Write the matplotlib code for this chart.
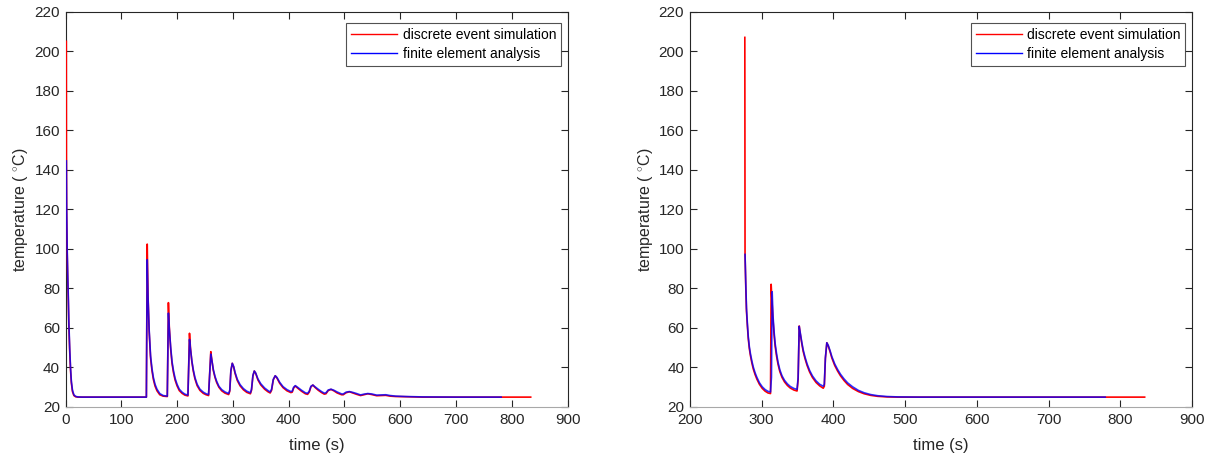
import matplotlib
matplotlib.use("Agg")
import matplotlib.pyplot as plt

plt.rcParams['font.family'] = ['Liberation Sans', 'DejaVu Sans']
plt.rcParams['mathtext.fontset'] = 'custom'
plt.rcParams['mathtext.rm'] = 'Liberation Sans'

# ---- left panel: full heating cycle ----
left_fea_t = [1.5, 2.0, 3.0, 4.0, 5.0, 6.0, 7.5, 9.0, 10.5, 12.5, 15, 18, 22, 30,
              145.0, 146.5, 148, 150, 152.5, 155, 157.5, 160.5, 164, 169, 175, 182.5,
              184.5, 186, 188.5, 191, 193.5, 196.5, 200, 204, 209, 214, 219.5,
              222.3, 224, 226.5, 229, 232, 236, 241, 247, 252, 256.5,
              260.5, 262.5, 265, 268, 271, 275, 280, 286, 292.5,
              294.5, 296.5, 299, 301.5, 304, 308, 313, 319, 325, 331.5,
              333.5, 336, 338.5, 341, 345, 350, 357, 363, 367,
              369.5, 372.5, 376, 379, 384, 390, 397, 404,
              406.5, 409, 412, 416, 423, 430, 434,
              437, 440, 443.5, 447, 453, 459, 464,
              467, 471, 476, 481, 487, 495,
              498, 503, 509, 515, 522, 529,
              535, 542, 549, 558, 566, 574, 582, 592, 610, 640, 700, 781]
left_fea_T = [144.5, 122, 100, 87, 76, 63, 50, 40, 33, 28.5, 26.2, 25.4, 25.1, 25.0,
              25.0, 94.5, 75, 59, 46, 39.5, 35, 31.5, 29, 26.8, 25.8, 25.5,
              67.5, 60, 50.5, 43, 38.5, 34.5, 31.5, 29, 27.5, 26.5, 26.0,
              54.2, 49.5, 43.5, 39, 35, 31.5, 29, 27.5, 26.7, 26.3,
              46.8, 43.5, 39, 35.5, 33, 30.5, 28.8, 27.6, 26.8,
              28.5, 38.5, 42.1, 40.5, 37.5, 34, 31.3, 29.3, 28, 27.2,
              29, 36, 38.2, 37.2, 34.2, 31.8, 29.6, 28.3, 27.6,
              29, 34, 35.8, 35, 32.5, 30.3, 28.8, 27.8,
              28, 30, 30.8, 30, 28.5, 27.2, 26.9,
              28, 30.5, 31.1, 30.3, 29, 27.8, 27.0,
              27.2, 28.6, 29.0, 28.5, 27.6, 26.6,
              26.6, 27.5, 27.8, 27.4, 26.8, 26.1,
              26.5, 26.8, 26.6, 26.0, 26.1, 26.2, 25.8, 25.5, 25.3, 25.1, 25.0, 25.0]

left_des_t = [1.5, 1.7, 2.0, 3.0, 4.0, 5.0, 6.0, 7.5, 9.0, 10.5, 12.5, 15, 18, 22, 30,
              145.0, 146.5, 148, 150, 152.5, 155, 157.5, 160.5, 164, 169, 175, 182.5,
              184.5, 186, 188.5, 191, 193.5, 196.5, 200, 204, 209, 214, 219.5,
              222.3, 224, 226.5, 229, 232, 236, 241, 247, 252, 256.5,
              260.5, 262.5, 265, 268, 271, 275, 280, 286, 292.5,
              294.5, 296.5, 299, 301.5, 304, 308, 313, 319, 325, 331.5,
              333.5, 336, 338.5, 341, 345, 350, 357, 363, 367,
              369.5, 372.5, 376, 379, 384, 390, 397, 404,
              406.5, 409, 412, 416, 423, 430, 434,
              437, 440, 443.5, 447, 453, 459, 464,
              467, 471, 476, 481, 487, 495,
              498, 503, 509, 515, 522, 529,
              535, 542, 549, 558, 566, 574, 582, 592, 610, 640, 700, 834]
left_des_T = [205.0, 146, 120, 98, 85, 74, 61, 48.5, 38.8, 32.2, 27.8, 25.8, 25.2, 25.0, 25.0,
              25.0, 102.4, 76, 58, 44.8, 38.5, 34, 30.6, 28.2, 26.2, 25.5, 25.3,
              72.8, 61, 49.5, 42, 37.5, 33.6, 30.7, 28.3, 26.9, 26.0, 25.6,
              57.3, 50, 43, 38.3, 34.3, 30.8, 28.4, 26.9, 26.2, 25.8,
              48.0, 43.5, 38.5, 35, 32.4, 30, 28.2, 27.0, 26.3,
              28, 38.2, 42.1, 40.2, 37, 33.4, 30.7, 28.7, 27.4, 26.7,
              28.5, 35.7, 38.2, 37, 33.7, 31.2, 29, 27.7, 27.1,
              28.5, 33.7, 35.8, 34.7, 32, 29.8, 28.2, 27.3,
              27.5, 29.6, 30.6, 29.6, 28, 26.7, 26.4,
              27.5, 30.2, 31.1, 30, 28.5, 27.3, 26.5,
              26.7, 28.3, 28.9, 28.2, 27.1, 26.2,
              26.2, 27.2, 27.7, 27.1, 26.4, 25.8,
              26.2, 26.7, 26.3, 25.7, 25.8, 25.9, 25.5, 25.3, 25.2, 25.0, 25.0, 25.0]

# ---- right panel: later cycle ----
right_fea_t = [277, 278, 279, 280.3, 281.5, 283, 284.5, 286.5, 288.5, 291, 293.5, 297,
               301, 305, 309, 312.5,
               313.8, 314.8, 316, 317.5, 319, 321, 323, 325.5, 328.5, 332, 336, 340, 345, 349.5,
               351, 352.5, 354, 356, 358, 360.5, 363.5, 367, 371, 376, 381, 386,
               387.5, 389, 391, 393, 395.5, 398, 402, 406, 410, 415, 420, 427, 435, 443,
               452, 462, 475, 490, 520, 779]
right_fea_T = [97.2, 83, 70, 62, 55.6, 50.5, 47, 43.3, 40.2, 37.3, 35, 32.3,
               30.2, 28.8, 27.9, 27.6,
               35, 78.3, 66, 58, 52, 46.8, 42.6, 38.8, 35.8, 33.5, 31.7, 30.4, 29.4, 28.9,
               35, 60.8, 57.5, 53, 49, 45.4, 41.8, 38.5, 35.7, 33.2, 31.5, 30.5,
               31.5, 45, 52.5, 51.2, 48.5, 45.5, 41.8, 39, 36.6, 34.2, 32.2, 30.2, 28.4, 27.2,
               26.3, 25.7, 25.3, 25.1, 25.0, 25.0]

right_des_t = [276.7, 277.0, 278, 279, 280.3, 281.5, 283, 284.5, 286.5, 288.5, 291, 293.5, 297,
               301, 305, 309, 312.5,
               313.4, 314.2, 316, 317.5, 319, 321, 323, 325.5, 328.5, 332, 336, 340, 345, 349.5,
               351, 352.5, 354, 356, 358, 360.5, 363.5, 367, 371, 376, 381, 386,
               387.5, 389, 391, 393, 395.5, 398, 402, 406, 410, 415, 420, 427, 435, 443,
               452, 462, 475, 490, 520, 834]
right_des_T = [207.0, 97, 81, 68.5, 60.8, 54.6, 49.5, 46, 42.3, 39.2, 36.4, 34.1, 31.5,
               29.4, 28, 27.1, 26.8,
               82.1, 76, 64, 56.5, 50.7, 45.6, 41.6, 37.9, 35, 32.7, 30.9, 29.6, 28.6, 28.1,
               34, 61.0, 57, 52.3, 48.2, 44.6, 41, 37.7, 34.9, 32.4, 30.7, 29.5,
               30.5, 44.5, 52.5, 50.8, 48, 44.8, 41, 38.2, 35.8, 33.4, 31.4, 29.4, 27.8, 26.7,
               25.9, 25.4, 25.1, 25.0, 25.0, 25.0]

legend_labels = ['discrete event simulation', 'finite element analysis']
y_ticks = list(range(20, 221, 20))
left_x_ticks = list(range(0, 901, 100))
right_x_ticks = list(range(200, 901, 100))

W, H = 1212, 458
fig = plt.figure(figsize=(W / 100, H / 100), dpi=100)
ax_w, ax_h = 567.5 - 65.5, 407 - 11.7
ax_l = fig.add_axes([65.5 / W, 1 - 407 / H, ax_w / W, ax_h / H])
ax_r = fig.add_axes([689.8 / W, 1 - 407 / H, (1192 - 689.8) / W, ax_h / H])

dark = '#262626'
panels = [
    (ax_l, left_des_t, left_des_T, left_fea_t, left_fea_T, (0, 900), left_x_ticks),
    (ax_r, right_des_t, right_des_T, right_fea_t, right_fea_T, (200, 900), right_x_ticks),
]
for ax, dt, dT, ft, fT, xlim, xt in panels:
    ax.plot(dt, dT, color='#ff0000', lw=1.2, label=legend_labels[0], zorder=3)
    ax.plot(ft, fT, color='#0000ff', lw=1.2, alpha=0.8, label=legend_labels[1], zorder=3)
    ax.set_xlim(*xlim)
    ax.set_ylim(20, 220)
    ax.set_xticks(xt)
    ax.set_yticks(y_ticks)
    ax.tick_params(direction='in', top=True, right=True, length=5, width=0.8,
                   colors=dark, labelsize=11, pad=4)
    for s in ax.spines.values():
        s.set_color(dark)
        s.set_linewidth(0.8)
    ax.spines['bottom'].set_color('#a8a8a8')
    ax.set_xlabel('time (s)', fontsize=12, color=dark, labelpad=8)
    ax.set_ylabel('temperature ( $^{\\circ}$C)', fontsize=11.5, color=dark, labelpad=3)
    leg = ax.legend(loc='upper right', bbox_to_anchor=(1 - 6.5 / ax_w, 1 - 11.5 / ax_h),
                    fontsize=10, handlelength=3.3, frameon=True,
                    fancybox=False, borderpad=0.35, labelspacing=0.35,
                    handletextpad=0.4, borderaxespad=0.0)
    leg.get_frame().set_edgecolor(dark)
    leg.get_frame().set_linewidth(0.8)
    leg.set_zorder(5)
    for line in leg.get_lines():
        line.set_linewidth(1.0)
        line.set_alpha(1.0)

fig.savefig('out.png', dpi=100)
